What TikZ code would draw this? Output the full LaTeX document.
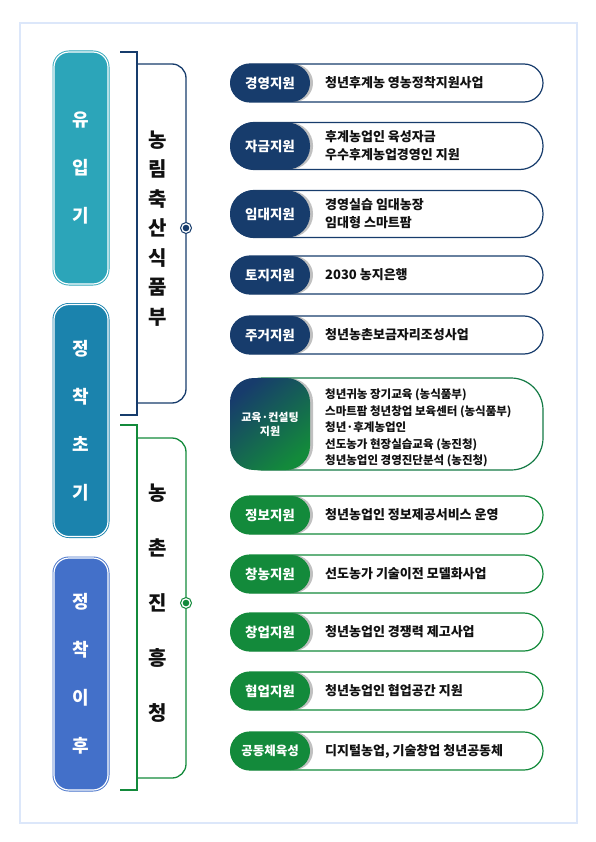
\documentclass[tikz,border=0pt]{standalone}
\usepackage{fontspec}
\setmainfont{Noto Sans CJK KR}
\usetikzlibrary{shadows}
\definecolor{framecol}{HTML}{DCE7FA}
\definecolor{navycol}{HTML}{173C6C}
\definecolor{greencol}{HTML}{138A3B}
\definecolor{stageone}{HTML}{2CA5B9}
\definecolor{stagetwo}{HTML}{1B83AD}
\definecolor{stagethree}{HTML}{4370C9}
\definecolor{textcol}{HTML}{111111}

% one support row: name, y, height, corner, colour, tag, text
\newcommand{\suprow}[7]{%
  \node[rowbox, draw=#5, minimum height=#3pt, rounded corners=#4pt] (#1) at (387,#2) {};
  \node[tagbox, fill=#5, minimum height=#3pt, rounded corners=#4pt] (#1-tag) at (270,#2) {#6};
  \node[rowtext] (#1-text) at (325,#2) {#7};
}

\begin{document}
\begin{tikzpicture}[x=1pt, y=-1pt,
    stagebox/.style={draw=#1, fill=#1, double=white, double distance=1.2pt, line width=0.9pt,
      rounded corners=15pt, minimum width=54pt, minimum height=232pt, inner sep=0pt,
      text=white, align=center, font=\fontsize{18}{48}\selectfont\bfseries},
    ministry/.style={align=center, text=textcol, inner sep=0pt, font=\fontsize{20}{#1}\selectfont\bfseries},
    rowbox/.style={rectangle, line width=1.2pt, fill=white, minimum width=312pt, inner sep=0pt},
    tagbox/.style={rectangle, minimum width=80pt, inner sep=0pt, text=white, align=center,
      font=\fontsize{13.5}{16}\selectfont\bfseries,
      drop shadow={shadow xshift=3pt, shadow yshift=0pt, opacity=.35, fill=black!70}},
    rowtext/.style={anchor=west, align=left, inner sep=0pt, text=textcol,
      font=\fontsize{13}{18}\selectfont\bfseries},
    marker/.style={circle, draw=#1, fill=white, line width=1pt, minimum size=11pt, inner sep=0pt}]
    \useasboundingbox (0,0) rectangle (595,842);

    % ==========================================
    % OUTER FRAME
    % ==========================================
    \draw[framecol, line width=1.5pt] (20,23) rectangle (577,823);

    % ==========================================
    % STAGES (Left Side)
    % ==========================================
    \node[stagebox=stageone] (inflow) at (81,168) {유\\입\\기};
    \node[stagebox=stagetwo] (early) at (81,420.5) {정\\착\\초\\기};
    \node[stagebox=stagethree] (later) at (81,674) {정\\착\\이\\후};

    % ==========================================
    % MINISTRY BRACKETS
    % ==========================================
    % MAFRA bracket
    \coordinate (mafraTop) at (137,52);
    \coordinate (mafraBot) at (137,415);
    \draw[navycol, line width=1.3pt] ([xshift=-17pt]mafraTop) -- (mafraTop) -- (mafraBot) -- ([xshift=-17pt]mafraBot);
    \draw[navycol, line width=1.3pt, rounded corners=14pt] (137,64) -- (186,64) -- (186,403) -- (137,403);
    \node[ministry=29.5] (mafra) at (158,228.5) {농\\림\\축\\산\\식\\품\\부};
    \node[marker=navycol] (mafraDot) at (186,228) {};
    \fill[navycol] (mafraDot.center) circle (3.3pt);

    % RDA bracket
    \coordinate (rdaTop) at (137,425);
    \coordinate (rdaBot) at (137,790);
    \draw[greencol, line width=1.3pt] ([xshift=-17pt]rdaTop) -- (rdaTop) -- (rdaBot) -- ([xshift=-17pt]rdaBot);
    \draw[greencol, line width=1.3pt, rounded corners=14pt] (137,438) -- (186,438) -- (186,778) -- (137,778);
    \node[ministry=55] (rda) at (158,603) {농\\촌\\진\\흥\\청};
    \node[marker=greencol] (rdaDot) at (186,603) {};
    \fill[greencol] (rdaDot.center) circle (3.3pt);

    % ==========================================
    % SUPPORT PROGRAMS (Right Side)
    % ==========================================
    \suprow{mgmt}{83}{38}{19}{navycol}{경영지원}{청년후계농 영농정착지원사업}
    \suprow{fund}{146}{47}{23}{navycol}{자금지원}{후계농업인 육성자금\\우수후계농업경영인 지원}
    \suprow{lease}{214}{47}{23}{navycol}{임대지원}{경영실습 임대농장\\임대형 스마트팜}
    \suprow{land}{275}{38}{19}{navycol}{토지지원}{2030 농지은행}
    \suprow{house}{335}{38}{19}{navycol}{주거지원}{청년농촌보금자리조성사업}

    % Education row (gradient tag)
    \node[rowbox, draw=greencol!80!navycol, minimum height=92pt, rounded corners=32pt] (edu) at (387,424) {};
    \node[tagbox, shading=axis, top color=navycol, bottom color=greencol, shading angle=40,
      minimum height=92pt, rounded corners=24pt, font=\fontsize{11}{14}\selectfont\bfseries] (edu-tag) at (270,424) {교육·컨설팅\\지원};
    \node[rowtext, font=\fontsize{11.5}{16.5}\selectfont\bfseries] (edu-text) at (325,428) {청년귀농 장기교육 (농식품부)\\스마트팜 청년창업 보육센터 (농식품부)\\청년·후계농업인\\선도농가 현장실습교육 (농진청)\\청년농업인 경영진단분석 (농진청)};

    \suprow{info}{515}{38}{19}{greencol}{정보지원}{청년농업인 정보제공서비스 운영}
    \suprow{start}{574}{38}{19}{greencol}{창농지원}{선도농가 기술이전 모델화사업}
    \suprow{venture}{632}{38}{19}{greencol}{창업지원}{청년농업인 경쟁력 제고사업}
    \suprow{coop}{691}{38}{19}{greencol}{협업지원}{청년농업인 협업공간 지원}
    \suprow{comm}{751}{38}{19}{greencol}{\fontsize{12.5}{15}\selectfont 공동체육성}{디지털농업, 기술창업 청년공동체}
\end{tikzpicture}
\end{document}
